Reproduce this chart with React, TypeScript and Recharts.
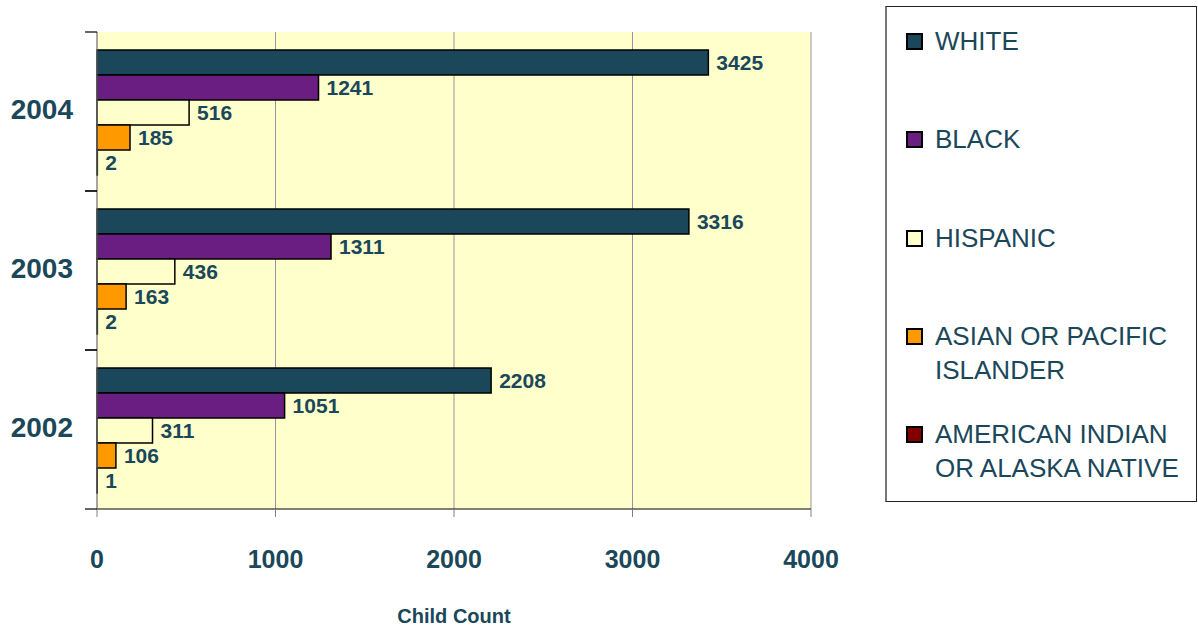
import React from 'react';
import { Bar, BarChart, CartesianGrid, Label, LabelList, XAxis, YAxis } from 'recharts';

const years = ['2004', '2003', '2002'];
const white = [3425, 3316, 2208];
const black = [1241, 1311, 1051];
const hispanic = [516, 436, 311];
const asian = [185, 163, 106];
const amIndian = [2, 2, 1];
const xTicks = [0, 1000, 2000, 3000, 4000];

const series = [
  { key: 'white', name: 'WHITE', color: '#1A4759', values: white },
  { key: 'black', name: 'BLACK', color: '#6B1E82', values: black },
  { key: 'hispanic', name: 'HISPANIC', color: '#FFFFCC', values: hispanic },
  { key: 'asian', name: 'ASIAN OR PACIFIC ISLANDER', color: '#FF9900', values: asian },
  { key: 'amIndian', name: 'AMERICAN INDIAN OR ALASKA NATIVE', color: '#800000', values: amIndian },
];

const data = years.map((year, i) => {
  const row: Record<string, string | number> = { year };
  series.forEach((s) => {
    row[s.key] = s.values[i];
  });
  return row;
});

const TEXT = '#1A4759';
const W = 1198;
const H = 631;
const TOP = 32;
const X_AXIS_H = 122;
const HALF_BAND = (H - TOP - X_AXIS_H) / years.length / 2;

function YearTick(props: any) {
  const { x, y, payload } = props;
  // tick x sits 8px left of the axis line (default tickSize + tickMargin)
  const axisX = x + 8;
  return (
    <g>
      <line x1={axisX - 12} x2={axisX} y1={y - HALF_BAND} y2={y - HALF_BAND} stroke="#000" strokeWidth={1.2} />
      <line x1={axisX - 12} x2={axisX} y1={y + HALF_BAND} y2={y + HALF_BAND} stroke="#000" strokeWidth={1.2} />
      <text
        x={axisX - 24}
        y={y - 2}
        textAnchor="end"
        dominantBaseline="central"
        fill={TEXT}
        fontFamily="'Liberation Sans', Arial, sans-serif"
        fontWeight="bold"
        fontSize={28}
      >
        {payload.value}
      </text>
    </g>
  );
}

function CountTick(props: any) {
  const { x, y, payload } = props;
  return (
    <text
      x={x}
      y={y + 40}
      textAnchor="middle"
      dominantBaseline="central"
      fill={TEXT}
      fontFamily="'Liberation Sans Narrow', 'Liberation Sans', sans-serif"
      fontWeight="bold"
      fontSize={25}
    >
      {payload.value}
    </text>
  );
}

function LegendBox() {
  return (
    <div
      style={{
        position: 'absolute',
        left: 885,
        top: 6,
        width: 312,
        height: 496,
        border: '1px solid #222',
        borderLeft: '2px solid #777',
        background: '#fff',
        boxSizing: 'border-box',
        paddingTop: 17,
      }}
    >
      {series.map((s) => (
        <div key={s.key} style={{ height: 98.3, display: 'flex', alignItems: 'flex-start' }}>
          <div
            style={{
              width: 17,
              height: 17,
              background: s.color,
              border: '2px solid #000',
              boxSizing: 'border-box',
              marginLeft: 19,
              marginTop: 9,
              flexShrink: 0,
            }}
          />
          <div
            style={{
              marginLeft: 12,
              width: 258,
              color: TEXT,
              fontFamily: "'Comic Sans MS', 'Liberation Sans', sans-serif",
              fontSize: 26,
              lineHeight: '34px',
            }}
          >
            {s.name}
          </div>
        </div>
      ))}
    </div>
  );
}

export default function App() {
  return (
    <div style={{ position: 'absolute', left: 0, top: 0, width: W, height: H, background: '#fff' }}>
      <BarChart
        width={W}
        height={H}
        data={data}
        layout="vertical"
        margin={{ top: TOP, right: 387, bottom: 0, left: 0 }}
        barCategoryGap={18}
        barGap={0}
      >
        <CartesianGrid horizontal={false} stroke="#9E8FA8" fill="#FFFFCC" />
        <XAxis
          type="number"
          domain={[0, 4000]}
          ticks={xTicks}
          height={X_AXIS_H}
          axisLine={{ stroke: '#000' }}
          tickLine={{ stroke: '#808080' }}
          tickSize={8}
          tick={<CountTick />}
          interval={0}
        >
          <Label
            value="Child Count"
            position="insideBottom"
            offset={8}
            fill={TEXT}
            fontFamily="'Liberation Sans Narrow', 'Liberation Sans', sans-serif"
            fontWeight="bold"
            fontSize={20}
          />
        </XAxis>
        <YAxis
          type="category"
          dataKey="year"
          width={97}
          axisLine={{ stroke: '#808080' }}
          tickLine={false}
          tick={<YearTick />}
        />
        {series.map((s) => (
          <Bar
            key={s.key}
            dataKey={s.key}
            name={s.name}
            fill={s.color}
            stroke="#000"
            strokeWidth={1.5}
            isAnimationActive={false}
          >
            <LabelList
              dataKey={s.key}
              position="right"
              offset={8}
              fill={TEXT}
              fontFamily="'Liberation Sans', Arial, sans-serif"
              fontWeight="bold"
              fontSize={21}
            />
          </Bar>
        ))}
      </BarChart>
      <LegendBox />
    </div>
  );
}
